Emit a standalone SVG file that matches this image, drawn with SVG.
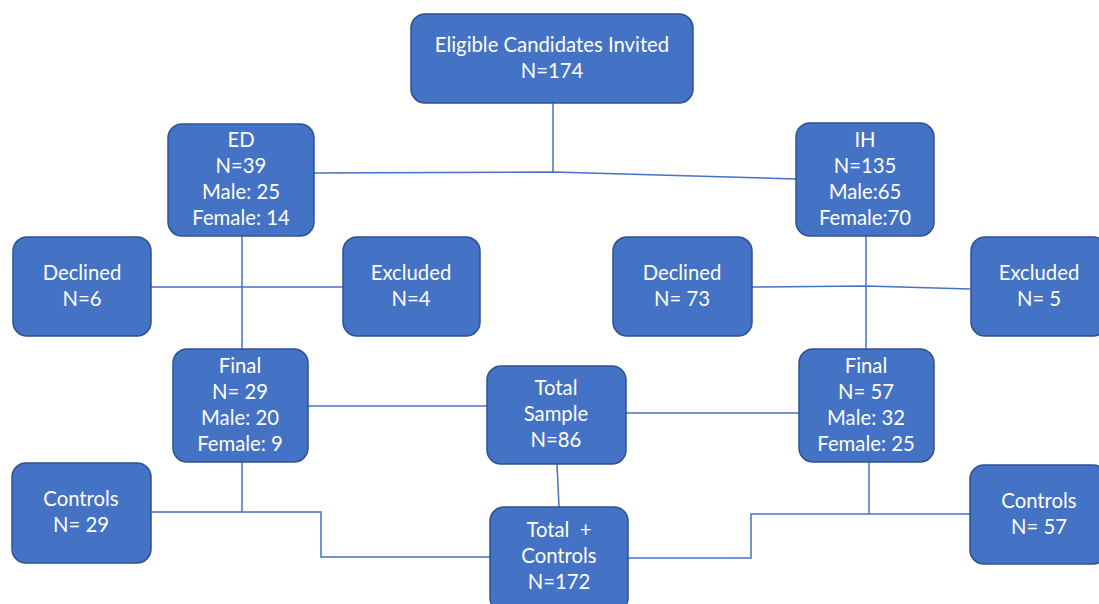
<svg xmlns="http://www.w3.org/2000/svg" width="1099" height="604" viewBox="0 0 1099 604">
<style>
.box{fill:#4472C4;stroke:#2F528F;stroke-width:1.5}
.t{fill:#fff;font-family:Lato,"Open Sans",sans-serif;font-size:20.3px;text-anchor:middle;white-space:pre}
.c{fill:none;stroke:#4472C4;stroke-width:1.5}
</style>
<rect width="1099" height="604" fill="#fff"/>
<g id="connectors">
<path class="c" d="M553,103 V173"/>
<path class="c" d="M314,173 L553,172 L796,179"/>
<path class="c" d="M242,236 V349"/>
<path class="c" d="M151,287 H343"/>
<path class="c" d="M866,236 V349"/>
<path class="c" d="M752,287 L866,286 L970,289"/>
<path class="c" d="M308,406 H487"/>
<path class="c" d="M626,413 H799"/>
<path class="c" d="M557,464 L559,507"/>
<path class="c" d="M242,462 V512"/>
<path class="c" d="M151,512 H321 V557 H490"/>
<path class="c" d="M869,462 V514"/>
<path class="c" d="M970,514 H751 V558 H628"/>
</g>
<g id="top"><rect class="box" x="411" y="14" width="282" height="89" rx="14"/>
<text class="t" x="552" y="52">Eligible Candidates Invited</text><text class="t" x="552" y="78">N=174</text></g>
<g id="ed"><rect class="box" x="168" y="124" width="146" height="112" rx="14"/>
<text class="t" x="241" y="147">ED</text><text class="t" x="241" y="173">N=39</text><text class="t" x="241" y="199">Male: 25</text><text class="t" x="241" y="225">Female: 14</text></g>
<g id="ih"><rect class="box" x="796" y="123" width="138" height="113" rx="14"/>
<text class="t" x="865" y="147">IH</text><text class="t" x="865" y="173">N=135</text><text class="t" x="865" y="199">Male:65</text><text class="t" x="865" y="225">Female:70</text></g>
<g id="declined-ed"><rect class="box" x="13" y="237" width="138" height="99" rx="14"/>
<text class="t" x="82" y="280">Declined</text><text class="t" x="82" y="306">N=6</text></g>
<g id="excluded-ed"><rect class="box" x="343" y="237" width="137" height="99" rx="14"/>
<text class="t" x="411" y="280">Excluded</text><text class="t" x="411" y="306">N=4</text></g>
<g id="declined-ih"><rect class="box" x="613" y="237" width="139" height="99" rx="14"/>
<text class="t" x="682" y="280">Declined</text><text class="t" x="682" y="306">N= 73</text></g>
<g id="excluded-ih"><rect class="box" x="971" y="237" width="136" height="99" rx="14"/>
<text class="t" x="1039" y="280">Excluded</text><text class="t" x="1039" y="306">N= 5</text></g>
<g id="final-ed"><rect class="box" x="173" y="349" width="135" height="113" rx="14"/>
<text class="t" x="240" y="373">Final</text><text class="t" x="240" y="399">N= 29</text><text class="t" x="240" y="425">Male: 20</text><text class="t" x="240" y="451">Female: 9</text></g>
<g id="total"><rect class="box" x="487" y="366" width="139" height="98" rx="14"/>
<text class="t" x="556" y="395">Total</text><text class="t" x="556" y="421">Sample</text><text class="t" x="556" y="447">N=86</text></g>
<g id="final-ih"><rect class="box" x="799" y="349" width="135" height="113" rx="14"/>
<text class="t" x="866" y="373">Final</text><text class="t" x="866" y="399">N= 57</text><text class="t" x="866" y="425">Male: 32</text><text class="t" x="866" y="451">Female: 25</text></g>
<g id="controls-ed"><rect class="box" x="12" y="463" width="139" height="100" rx="14"/>
<text class="t" x="81" y="506">Controls</text><text class="t" x="81" y="532">N= 29</text></g>
<g id="total-controls"><rect class="box" x="490" y="507" width="138" height="105" rx="14"/>
<text class="t" x="559" y="537">Total  +</text><text class="t" x="559" y="563">Controls</text><text class="t" x="559" y="589">N=172</text></g>
<g id="controls-ih"><rect class="box" x="970" y="465" width="137" height="99" rx="14"/>
<text class="t" x="1039" y="508">Controls</text><text class="t" x="1039" y="534">N= 57</text></g>
</svg>
